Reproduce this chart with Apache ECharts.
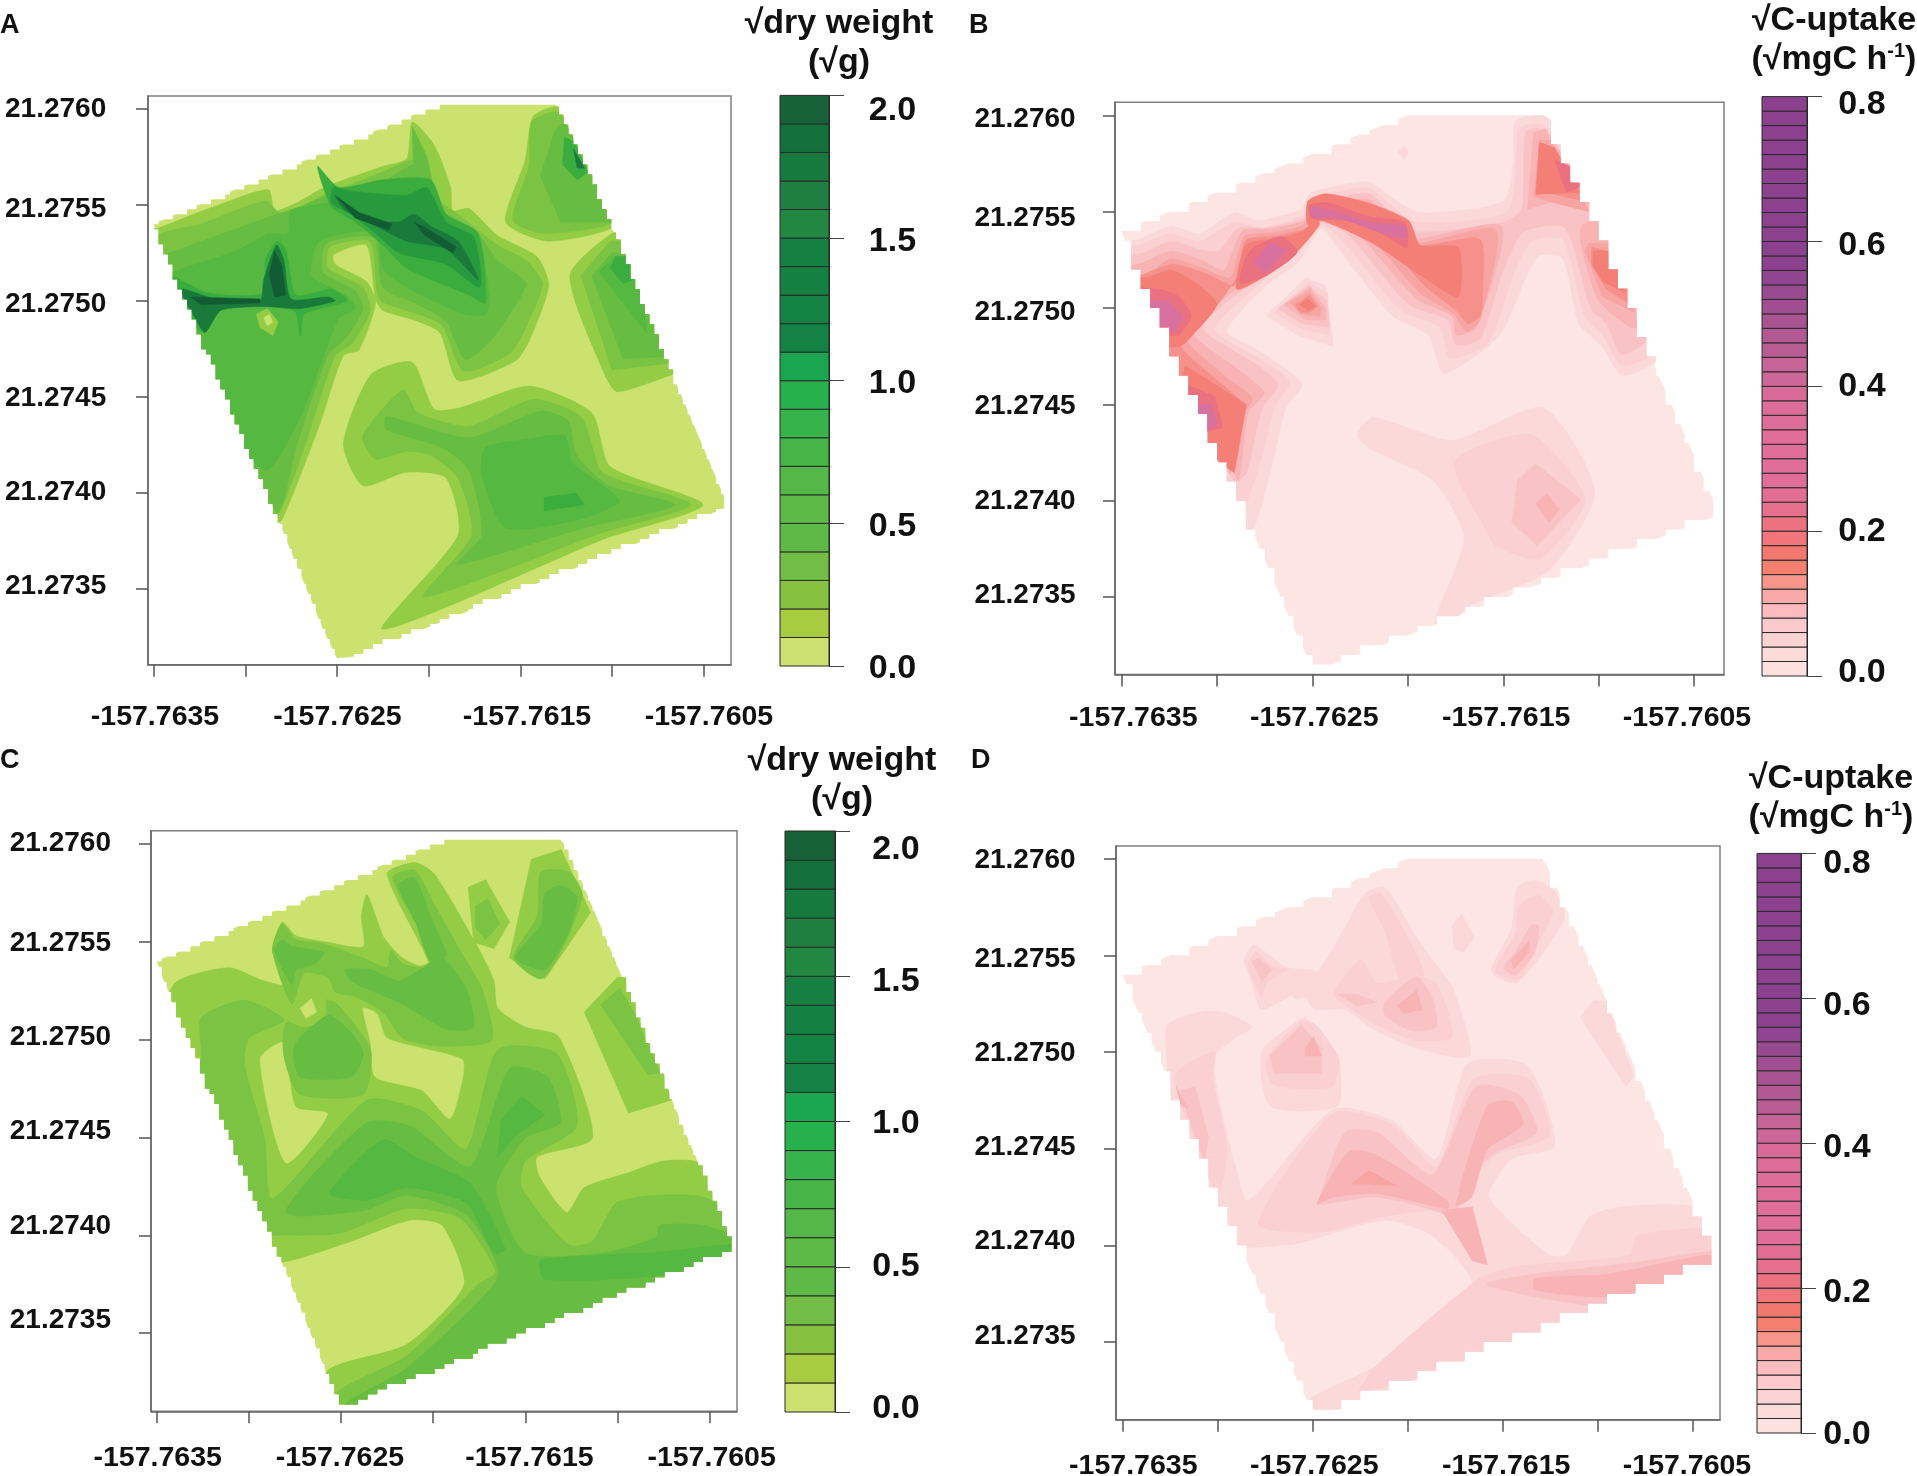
<!DOCTYPE html>
<html><head><meta charset="utf-8">
<style>html,body{margin:0;padding:0;background:#fff}#c{width:1917px;height:1476px;filter:blur(0.6px)}</style>
<script src="https://cdn.jsdelivr.net/npm/echarts@6/dist/echarts.min.js"></script></head>
<body><div id="c"></div>
<script>
// Map outlines and contour regions are in units of 1e-5 degree east of -157.7635 and north of 21.2735.
const originLon = -157.7635, originLat = 21.2735, unit = 1e-5;
const lonTicks = [-157.7635,-157.7630,-157.7625,-157.7620,-157.7615,-157.7610,-157.7605];
const latTicks = [21.2735,21.2740,21.2745,21.2750,21.2755,21.2760];
const lonLabels = ['-157.7635','-157.7625','-157.7615','-157.7605'];
const latLabels = ['21.2760','21.2755','21.2750','21.2745','21.2740','21.2735'];
const surveyOutline = [[0,190],[155,252],[219,252],[223,247],[248,192],[280,118],[311,48],[311,42],[110,-35],[100,-36],[92,-20],[68,36],[24,136],[3,182]];

const greenBar = ['#cde170','#a8cc3f','#86c240','#71bd45','#5fb946','#5eba47','#53b848','#46b649','#36b34a','#27b14c','#1aa64f','#138244','#138344','#148143','#158042','#228841','#1f7f40','#167a3e','#14703a','#176337'];
const pinkBar = ['#fde1df','#fbdcd9','#fbd3d5','#fcc9cc','#fbbbbf','#f9a9a8','#f8968b','#f6806f','#f2786f','#f1767b','#ec727f','#e66f8d','#e36e93','#e06e98','#e06e98','#e06e98','#e06e98','#de6d99','#dc6d99','#d96a97','#cc6797','#c66498','#b85c93','#b25892','#a85392','#a04d91','#984a91','#914590','#8b418e','#8b418e','#8b418e','#8b418e','#8b418e','#8b418e','#8b418e','#8b418e','#8b418e','#8b418e','#8b418e','#8b418e'];
const greenMapLevels = ['#cbe26f','#93cc45','#7ac343','#66bd42','#55b841','#3bad3f','#289a3e','#197a3c','#125c33'];
const pinkMapLevels = ['#fde5e3','#fbd9d9','#fad0d2','#f9c3c6','#f8b3b5','#f7a4a2','#f5908a','#f47f76','#ea7180','#d971a0'];

const regionsA = [
[1,[[-4,186],[3,188],[30,198],[62.5,208],[66,197],[78,201],[93,209],[125,220],[138,224],[141,243],[153,231],[162,209],[163,197],[172,198],[187.5,184],[209,173],[215.5,158],[205,129.5],[197,118.5],[166,108.5],[156,133.5],[142,140],[125,145],[121,151],[116,179],[98,174],[99,169],[116,160],[121,149],[112,124.5],[103.5,121.5],[90.5,85.5],[70,36],[65,34],[-13,145]]],
[1,[[207,246],[221,251],[230.6,235],[254,191],[215.5,181],[192,191],[202.6,223]]],
[1,[[250,185],[263,185],[295,112],[286.6,112.5],[253,102.6],[246,111.5],[227,163]]],
[1,[[141,118],[153,93.6],[168,94.6],[205,105.6],[239,91.6],[249,63.7],[299.6,43.8],[245.7,26],[125,-21],[166,28],[159.5,57.8],[138,60.8],[114,53.8],[103.5,75.7],[118.5,111.6]]],
[2,[[0,183],[26,190],[61,202],[70,195],[95,206],[125,217],[142,223],[157,201],[166,195],[187.5,179],[203,171],[212,159],[202.6,135.5],[194,122.5],[169,113.5],[157,137.5],[138,145],[123,151],[118,181],[96,178],[95,167],[114,157],[118,145],[108,127.5],[99,121.5],[82,73.7],[67,38],[56,46],[-13,145]]],
[2,[[206,243],[221,248],[235,221],[252,192],[213,185],[196,192],[205,221]]],
[2,[[249,181],[263,181],[285,118],[250,114],[233,163]]],
[2,[[136,103.6],[144,91.6],[172,84.7],[207,98.6],[233,89.6],[243.5,61.8],[256.5,55.8],[293,43.8],[243.5,29],[147.6,-4],[173.5,28],[166,57.8],[151,69.7],[138,71.7],[120.7,67.7],[114,79.7]]],
[3,[[0,171],[15,177],[67,195],[80,199],[95,205],[125,212],[144,221],[157,197],[175,187],[187.5,171],[203,159],[194,143],[184,129.5],[170,119.5],[159.5,139.5],[142,149],[125,157],[120,183],[94,180],[92,165],[110,155],[114,146],[105.6,131.5],[95,121.5],[77.6,73.7],[68,40],[52,66],[-13,145]]],
[3,[[219,239],[224,243],[255,191],[222,191],[211,215]]],
[3,[[250,175],[265,175],[282,121],[256,120],[239,163]]],
[3,[[127,89.6],[172,78.7],[211,92.6],[226,87.6],[230.6,69.7],[248,53.8],[284.5,43.8],[235,31.9],[166,13],[179,28],[172,61.8],[157,73.7],[127,83]]],
[3,[[141,241],[149,225],[153,207],[142,213]]],
[4,[[11,165],[30,171],[47.4,177],[62.5,185],[73,185],[75,197],[95,201],[125,211],[140,213],[155,197],[177,181],[183,153],[181,143],[170,143],[159.5,147],[138,157],[125,167],[121,186],[94,183],[88,178],[86,163],[106,152],[110,146],[101,141],[92.7,121.5],[80,89.6],[60,62],[-13,145]]],
[4,[[251,173],[265,173],[269,133],[243,165]]],
[4,[[202.6,77.7],[224,79.7],[228.4,65.7],[254,45.8],[230.6,35.9],[191.8,31.9],[179,59.8],[181,73.7]]],
[5,[[8.6,163],[30,154],[60,154],[61,171],[67,181],[72,177],[77.6,153],[97,156],[105.6,150],[82,143],[80,131.5],[76.5,145],[30,147],[26,133.5],[15,151]]],
[5,[[89.4,220],[101,209],[125,213],[151,213],[159.5,195],[177,185],[181,149],[172,153],[138,167],[125,179],[110,191],[97,199]]],
[5,[[224,235],[229,233],[237,217],[231,213],[223,221]]],
[5,[[252,173],[265,173],[262,161],[256,159],[249,167]]],
[5,[[213,47.8],[230.6,49.8],[235,43.8],[213,40.8]]],
[6,[[98,209],[108,207],[138,205],[149,209],[159.5,191],[174.6,183],[178,157],[159.5,169],[133.6,175],[121,185],[108,195],[97,201]]],
[7,[[15,156],[36.6,150],[58,150],[60,161],[67,179],[71,171],[75,151],[95,152],[99,150],[80,146],[60,147],[36.6,145],[28,133.5],[22.6,141]]],
[7,[[99,205],[116,193],[133.6,191],[142,195],[151,189],[166,181],[177,161],[159.5,177],[138,181],[121,189],[104.5,197]]],
[7,[[229,229],[235,219],[231,219]]],
[8,[[100,204],[112,196],[130,190],[128,187],[110,193]]],
[8,[[142,191],[150,187],[165,178],[163,175],[148,184]]],
[8,[[20,152],[58,151],[58,149],[26,148]]],
[8,[[66,176],[70,168],[72,153],[66,152],[63,164]]],
[1,[[56,143],[62,146],[68,139],[65,132],[58,136]]],
[0,[[60,141],[63,143],[65,139],[62,137]]]
];

const regionsC = [
[1,[[-3.9,125],[9,178],[39,186.7],[58,180],[70,178],[62.7,195.5],[68,210],[75.5,203],[90.6,200],[112,197.5],[111,213],[114,224],[122.7,203],[127,197.5],[133.5,191.6],[142,187.7],[147.4,189.6],[125,234.6],[140,240.4],[150.6,234.6],[174,197.5],[183,180],[185,166],[200,156.4],[218,151.6],[236.5,99.8],[206.4,90],[207.5,80.3],[222.5,61.7],[232,74.4],[255.8,82],[275,88],[294.4,87],[316,66.6],[320,41],[114,-43],[93,-43],[92.7,-19],[135.6,-5.7],[166.7,24.6],[155,55],[137.8,57.8],[105.6,47],[73.4,37.3],[60,37]]],
[1,[[169,227.7],[178.5,231.6],[191.5,210],[183,196.5],[172,199.5]]],
[1,[[203.3,242],[219.5,247],[235.4,214.8],[210.7,180.9],[191.4,191.6]]],
[1,[[250,181.8],[232,164],[256,112.5],[279.4,119],[260,181.8]]],
[0,[[56,140],[68,148.6],[71,137],[75.5,115.4],[92.7,112],[70,87]]],
[0,[[112,166],[119.5,163],[125,150.6],[165.7,139.8],[165.7,129],[159,109.6],[144,124],[118.5,131],[116,148.6]]],
[2,[[208.6,235.6],[223.6,235.6],[231,224],[221.5,199],[208.6,180.9],[193.6,191.6],[206.4,213]]],
[2,[[173,218],[179.5,222],[186,209],[178.5,201],[173,207]]],
[2,[[251.5,176],[240.8,168],[266.5,132],[273,133],[260,162]]],
[2,[[128,232.6],[140,236.5],[150.6,219],[165.7,193.6],[176.4,176],[181.8,149.6],[152.8,146.7],[133.5,150.6],[122.7,164],[107.7,172],[97,174],[92.7,181.8],[79.8,183.8],[73.4,168],[62.7,195.5],[68,209],[75.5,201],[88.4,199.4],[112,191.6],[125,186.7],[127,195.5],[133.5,188.7],[146.4,186.7],[150.6,191.6]]],
[2,[[24,161],[47.6,170],[69,160],[49.8,150.6],[47.6,137],[58.4,99.8],[62.7,68.6],[114,119],[144,113.5],[167.8,94],[185,144.7],[217,142.8],[227.9,105.7],[200,88],[197.9,74.4],[223.6,45],[236.5,47],[249.4,66.6],[273,70.5],[296.6,69.5],[318,57],[320,41],[114,-43],[100,-43],[98,-30],[135.6,-11.5],[174,24.6],[184,31.4],[164.6,58.8],[135.6,63.7],[99,51],[63.7,50],[50,50],[15,125],[24,140]]],
[2,[[70,158],[90.6,170],[98,168],[116,145],[112,122],[77.7,122],[69,141]]],
[1,[[74.5,164],[86,176],[91.6,170],[90.6,160],[79.8,156.4],[71,160]]],
[0,[[77.7,166],[84,171],[86.7,164],[81,160.7]]],
[3,[[102.3,185.7],[116,185.7],[131,179.9],[139.9,183.8],[154.9,191.6],[167.8,176],[172,156.4],[157,155.4],[133.5,168],[114,176],[105.6,180]]],
[3,[[131,228.7],[140,232.6],[148.5,212.6],[157,193],[148.5,189.6],[140,211]]],
[3,[[63.7,195.5],[68,201],[73.4,197.5],[90.6,194.5],[86,188.7],[75.5,185.7],[73.4,178]]],
[3,[[74.5,146.7],[92.7,162.3],[104.5,154.5],[112,142.8],[105.6,131],[77.7,131]]],
[3,[[210.7,224.6],[219.3,228.7],[227.9,222.8],[223.6,205],[210.7,185.7],[194.6,191.6],[208.6,209]]],
[3,[[70,61.7],[114,107.6],[137.8,105.7],[170,85],[191.4,135],[212,131],[219,107.6],[200,99.8],[184,74.4],[200,41],[243,41],[271,49],[273,55],[296.6,55],[320,47],[320,41],[114,-43],[101,-37],[133.5,-19.3],[166,8],[185,27.5],[184,37.3],[167.8,60.7],[135.6,70.5],[112,62.7]]],
[4,[[93.8,71.5],[122.7,98.8],[140,90],[170,76.4],[189,43],[183,41],[167.8,66.6],[135.6,74.4],[114,68]]],
[4,[[187,109],[197.9,121],[210.7,111.4],[195.7,101.7],[185,90]]],
[4,[[208.6,37.3],[271,41.2],[311.6,45],[307.3,39],[273,29.5],[210.7,27.5]]]
];

const regionsB = [
[1,[[-3,183.5],[9,185.5],[26,192.5],[40.5,188.5],[59,199.4],[71.6,195.4],[94.4,201.4],[98.5,209.3],[113,213.3],[129.7,215.3],[142,207],[156.6,199.4],[200,205.4],[205.4,227],[206.4,247],[223,249],[258,203.4],[283,126],[262.4,115],[252,130],[239.6,142],[231.3,175.6],[219,177.6],[212.7,167.7],[198,136],[169,116],[160.8,136],[142,145.8],[113,181.5],[104.8,191.5],[92.3,173.6],[75.7,161.7],[55,138],[71.6,128],[94.4,111],[86,98],[77.8,64.5],[68.5,34.7],[59,34.7],[-11,163.7]]],
[1,[[75.7,145.8],[96.5,165.7],[106.8,161.7],[111,130],[92.3,136]]],
[1,[[123.4,84.3],[131.7,93.3],[173.2,81.3],[221,98.2],[248,54.6],[224,14],[181.5,-5],[171,-15],[164,-13],[179.5,30.8],[163,60.5],[129.7,77.4]]],
[1,[[145,231],[148.3,234],[150.4,231],[148,227]]],
[2,[[-3,179.6],[9,182.5],[26,188.5],[40.5,184.5],[59,194.4],[73.6,191.5],[95.4,198.4],[101.7,206.3],[113,210.3],[129.7,212.3],[140,204.4],[154.6,194.4],[202.3,200.4],[208.5,243],[221,245],[258,199.4],[279,128],[262.4,120],[252,136],[242.7,145.8],[231.3,185.5],[214.7,184.5],[205.4,167.7],[192,132],[172,124],[167,140],[146.3,148.8],[116,184.5],[104.8,193],[90.2,177.6],[73.6,163.7],[48.8,139],[71.6,124],[88,112],[80,98],[71.6,66.5],[63.3,46.6],[50.8,64.5],[-11,163.7]]],
[2,[[80,147.8],[98,163.7],[107.9,157.7],[109,136],[94.4,138.9]]],
[2,[[174.3,70.4],[214.7,84.3],[242.7,50.6],[219,19.8],[196,26.8],[189.8,36.7]]],
[3,[[-3,175.6],[11.4,178.6],[26,184.5],[40.5,180.5],[50.8,179.6],[61.2,191.5],[75.7,191.5],[95.4,196.4],[102.7,203.4],[113,207.3],[129.7,209.3],[139,201.4],[152.5,189.5],[200,194.4],[209.6,201.4],[211.6,241],[218.9,243],[258,195.4],[275,134],[262,126],[254,141.9],[245.8,149.8],[232.4,191.5],[210.6,189.5],[200,169.6],[187.8,134],[175.3,131],[171,143.8],[150.4,151.8],[119.3,187.5],[104.4,194.4],[88.2,179.6],[71.6,165.7],[42.5,140],[71.6,120],[82,110],[73.6,98],[65.4,64.5],[59,60.5],[-11,163.7]]],
[3,[[82,149.8],[98,161.7],[107.4,153.8],[109,140],[94.4,141.9]]],
[3,[[207.5,60.5],[216.8,69.4],[240.6,50.6],[217.8,26.8],[204.4,38.7]]],
[4,[[-3,169.6],[11.4,173.6],[26,179.6],[42.5,174.6],[53.5,169.6],[63.3,190],[77.8,191],[95.4,195],[103.7,201.4],[117,205.4],[129.7,206.3],[138,199.4],[150.4,185.5],[199,192.5],[186,140],[175.3,136],[173.2,145.8],[154.6,154.8],[121.4,190.5],[104,195.4],[86,181.5],[69.5,167.7],[37.3,138],[61.2,118],[74.7,106],[66.4,96],[61.2,60.5],[55,74],[-11,163.7]]],
[4,[[212.7,201.4],[215.8,241],[222,243],[250,200],[225,205]]],
[4,[[241.7,193.5],[258,195],[270.7,140],[266.6,140],[250,153.8],[240.6,183.5]]],
[4,[[85,151.8],[98.5,160.7],[107,149.8],[107,143.8],[96.5,143.8]]],
[4,[[216.8,48.6],[223,53.6],[229.3,45.6],[224,38.7]]],
[5,[[-3,165.7],[13.5,167.7],[26,175.6],[42.5,170.6],[57,165.7],[64.3,187],[80,189],[95.4,193],[103.7,199.4],[117,203.4],[129.7,204.4],[138,197.4],[152.5,183.5],[196,190.5],[187.8,143.8],[180.5,137.9],[174.3,146.8],[156.6,157.7],[123.5,193.4],[103.7,195.8],[84,184.5],[67.4,169.6],[33.2,136],[55,114],[68.5,103],[61.2,92],[57,64.5],[50.8,84.3],[-11,163.7]]],
[5,[[216,208],[219,237],[225,237],[245,200],[225,205]]],
[5,[[245,183.5],[262.4,183.5],[268.6,147.8],[252,155.8],[242.7,179.6]]],
[5,[[88,152.8],[98.5,158.7],[104.8,149.8],[103.7,145.8],[94.4,146.8]]],
[6,[[-3,161.7],[26,172.6],[44.6,167.7],[59,161.7],[65,185],[82,187.5],[95.4,191],[103.7,197.4],[117,201.4],[129.7,202.4],[138,195.4],[154.6,182.5],[187.8,185.5],[189,155.8],[187.8,145.8],[181.5,141.9],[175.3,148.8],[158.7,161.7],[128,194.4],[103.7,195],[82,179.6],[65.4,171.6],[48.8,149.8],[30,132],[53,110],[63.3,100],[57,74.4],[-11,163.7]]],
[6,[[218,215],[222,232],[228,230],[245,205],[222,210]]],
[6,[[246.3,181.5],[262.4,177.6],[266.6,151.8],[254,159.7],[246,173.6]]],
[6,[[91,151.8],[98.5,156.7],[102.7,150.8],[98.5,147.8],[93.4,147.8]]],
[7,[[-11,167.7],[12.4,165.7],[26,169.6],[40.5,161.7],[49.8,151.8],[37.3,136],[30,130],[-11,130]]],
[7,[[33.2,120],[65.4,100],[59,64.5],[50.8,70.4],[30,104]]],
[7,[[60.2,159.7],[65.4,183],[82,186],[95.4,190],[101.7,197],[103.7,193.4],[92.3,179.6],[75.7,166.7]]],
[7,[[97.5,205.4],[106.8,209.3],[129.7,204.4],[150.4,195.4],[156.6,182.5],[176.4,181.5],[176.4,155.8],[158.7,165.7],[131.7,183.5],[104.8,195.4],[97.5,193.4]]],
[7,[[217,209],[218.9,236],[227,233],[240,210]]],
[7,[[247,179.6],[258,179.6],[264,158],[252,163.7],[247,171.6]]],
[7,[[93.4,151.8],[97.5,154.8],[101.7,150.8],[97.5,148.8]]],
[8,[[98.5,203.4],[109,204.4],[129.7,197.4],[148.3,194.4],[149.4,181.5],[134.8,189.5],[117.2,195.4],[99.6,196.4]]],
[8,[[65,176],[70,182],[84,187],[92,179],[76,167],[62,163]]],
[8,[[-11,159.7],[19.7,159.7],[30,155.8],[36.3,145.8],[30,136],[24,136],[-11,140]]],
[8,[[30,112],[48.8,104],[53,88],[44.6,86],[30,100]]],
[8,[[227,227],[250,217],[233,210]]],
[9,[[99.6,202.4],[110.7,200.4],[129.7,194.4],[148.3,192.5],[148.8,186.5],[134.8,189.5],[115.1,196.4],[99.6,197.4]]],
[9,[[69,174],[78,184],[87,180],[75,168]]],
[9,[[-11,153.8],[24,153.8],[32,145.8],[28,138],[-11,138]]],
[9,[[30,100],[46.6,100],[50,90],[44.6,86]]]
];

const regionsD = [
[1,[[23.3,164],[42,171],[54.6,170],[68,163],[58.8,157],[48,148],[50.4,126],[58.8,92.7],[66,73],[110.8,120.4],[142,114.5],[165,94.7],[181.7,144],[213,143],[227.5,101.6],[204.6,94.7],[193,75],[224.4,45],[233.8,45],[246,65],[263,70],[300.4,70],[313,55],[313,39],[113,-44],[98,-44],[98,-30],[133.8,-12],[183.8,30],[163,55],[138,63],[92,51],[68,49],[58.8,50],[15,130],[23,140]]],
[1,[[127.5,232],[138,235],[154.6,209.5],[169,189.7],[174.4,181.8],[182.7,148],[154.6,152],[131.7,162],[117,172],[101.5,172],[96,178],[90,178],[86,193],[102.5,191.7]]],
[1,[[73,150],[92,166],[96,168],[113,148],[113,122],[77.5,122]]],
[1,[[64,197.6],[69,205.5],[86,193.7],[102.5,191.7],[101.5,183.8],[90,180],[73,172],[68,186]]],
[1,[[173.3,215.4],[178.5,221.4],[185,209.5],[179.6,201.6],[174.4,203.6]]],
[1,[[207.7,235],[217,239],[227.5,233],[232.7,219.4],[217,195.6],[206.7,185.7],[194,191.7],[204.6,213.5]]],
[1,[[248,176.8],[241,168],[265,132],[269,138],[254.6,175.8]]],
[2,[[209,226],[219,231],[226.5,223],[217,203.6],[208.8,187.7],[196,191.7],[206.7,211.5]]],
[2,[[129.6,230],[135.8,232],[148.3,212.5],[158.7,189.7],[148.3,181.8],[138,212.5]]],
[2,[[111,179.8],[125.2,197.6],[133.8,185.7],[150.4,188.7],[165,185.7],[173.3,158],[154.6,156],[133.8,164],[121,172]]],
[2,[[66,195.6],[70.2,201.6],[79.6,193.7],[86,192.7],[75.4,185.7],[73.3,177.8]]],
[2,[[75.4,146],[94,166],[101.5,164],[114,146],[109.8,132],[79.6,133]]],
[2,[[27.5,138],[48.3,150],[47.3,136],[54.6,100.6],[50.4,76.8],[40,96.6]]],
[2,[[71.3,61],[110.8,118.4],[142,112.5],[165,90.7],[184.8,136],[214,136],[224.4,106.5],[196,96.6],[179.6,74.9],[190,41],[169.2,67],[138,65],[104.6,57]]],
[2,[[187.9,33],[206.7,39],[267,45],[271,55],[313,58],[313,39],[196,-6.3],[125,-26],[133.8,-12]]],
[3,[[206.7,201.6],[215,215.4],[219,215.4],[217,201.6],[206.7,189.7],[200.4,193.7]]],
[3,[[138,175.8],[154.6,188.7],[163,177.8],[165,163],[152.5,161],[138,169]]],
[3,[[113,180],[123.3,180],[133.8,175.8],[123.3,173.8]]],
[3,[[68,196.6],[71.2,198.6],[78.6,192.7],[73.3,186.7]]],
[3,[[77.5,148],[94,164],[104.6,152],[104.6,139],[79.6,139]]],
[3,[[29.6,130],[38,132],[45,106.5],[43,92.7]]],
[3,[[102.5,72],[117,108.5],[133.8,108.5],[163,86.7],[186,132],[208.8,128],[218,108.5],[194,96.6],[175.4,74.9],[190,41],[171,65],[133.8,74.9],[102.5,70.9]]],
[3,[[191,30],[215,35],[269,41],[313,47],[313,39],[254.6,19],[217,23.4]]],
[4,[[204.6,197.6],[214,207.5],[214,201.6],[205.6,192.7]]],
[4,[[144.2,173.9],[154.6,181.8],[157.7,171.9],[148.3,170]]],
[4,[[96,152],[100.4,158],[104.6,148],[96,148]]],
[4,[[28,132],[33.8,121],[30.6,122.4]]],
[4,[[175.4,70.9],[192,122.4],[204.6,124.4],[210.8,112.5],[192,99.6],[183.8,75]]],
[4,[[102.5,72],[119,98.6],[133.8,96.6],[171,72.9],[171,69],[133.8,76.8],[110.8,74.9]]],
[4,[[168,68],[184,70],[192,40],[184,42]]],
[4,[[217,33],[254.6,35],[308.7,45],[313,40],[258.7,23.4],[217,27]]],
[5,[[120.2,81.8],[129.6,88.7],[144.2,80.8],[129.6,81.8]]]
];

const SANS = '"Liberation Sans", Arial, sans-serif';
const mapPanels = [
 {regions:regionsA,colors:greenMapLevels,cell:2.6,frame:[148,731,96,664.8],x0:153.7,xs:91.67,y0:108.7,ys:96.05,latX:5,latY:[109,209,304,398,492,586],lonX:[155,337.4,527,709],lonY:717},
 {regions:regionsB,colors:pinkMapLevels,cell:5,frame:[1115,1724,102.2,674.4],x0:1121.7,xs:95.4,y0:115.3,ys:96.36,latX:974.4,latY:[119,218,312.5,406.7,500.8,595],lonX:[1133.3,1314.3,1506.2,1687],lonY:718.5},
 {regions:regionsC,colors:greenMapLevels,cell:2.6,frame:[151,737,830.7,1411.3],x0:156.9,xs:92.1,y0:843.7,ys:97.9,latX:9.8,latY:[843,943.4,1037.5,1131.7,1225.8,1320],lonX:[157.7,339.9,529.4,711.6],lonY:1458},
 {regions:regionsD,colors:pinkMapLevels,cell:5,frame:[1116,1720,846,1419.7],x0:1123,xs:94.9,y0:858.7,ys:96.67,latX:974.4,latY:[860.3,959.3,1053.4,1147.6,1241.7,1335.8],lonX:[1133.3,1314.3,1506.2,1687],lonY:1466.6}
];
const barPanels = [
 {colors:greenBar,max:2,step:.5,frame:[780,829,95.4,666],labels:['2.0','1.5','1.0','0.5','0.0'],labelX:892.5,labelY:[110.5,241.5,383.5,526.5,668.5]},
 {colors:pinkBar,max:.8,step:.2,frame:[1762,1807,96.6,676],labels:['0.8','0.6','0.4','0.2','0.0'],labelX:1862,labelY:[105,246,387,532,673]},
 {colors:greenBar,max:2,step:.5,frame:[785,835,831,1412],labels:['2.0','1.5','1.0','0.5','0.0'],labelX:896,labelY:[850,982,1123.5,1266.5,1408.5]},
 {colors:pinkBar,max:.8,step:.2,frame:[1757,1801,853.4,1433],labels:['0.8','0.6','0.4','0.2','0.0'],labelX:1847,labelY:[863.5,1005.5,1147.5,1293,1435]}
];
const letters = [['A',0,26],['B',969,26],['C',0,761],['D',971,761]];

function staircase(outline,cell){
  const out=[];let last=null;
  const snap=v=>Math.round(v/cell)*cell;
  outline.forEach((p,i)=>{
    const q=outline[(i+1)%outline.length];
    for(let t=0;t<40;t++){
      const a=snap(p[0]+(q[0]-p[0])*t/40),b=snap(p[1]+(q[1]-p[1])*t/40);
      if(!last||last[0]!==a||last[1]!==b){
        if(last&&last[0]!==a&&last[1]!==b)out.push([a,last[1]]);
        out.push([a,b]);last=[a,b];
      }
    }
  });
  return out;
}
const toGeo=p=>[originLon+p[0]*unit,originLat+p[1]*unit];

const grids=[],xAxes=[],yAxes=[],series=[],graphics=[];
const txt=(text,x,y,size,align)=>graphics.push({type:'text',x,y,z:100,style:{text,fill:'#111',font:`bold ${size}px ${SANS}`,align:align||'center',verticalAlign:'middle'}});

mapPanels.forEach((m,i)=>{
  const [l,r,t,b]=m.frame;
  grids.push({left:l,top:t,width:r-l,height:b-t,show:true,borderColor:'#808080',borderWidth:1.5,backgroundColor:'#fff'});
  const lonAt=px=>lonTicks[0]+(px-m.x0)/m.xs*0.0005;
  const latAt=py=>latTicks[5]-(py-m.y0)/m.ys*0.0005;
  xAxes.push({type:'value',gridIndex:grids.length-1,min:lonAt(l),max:lonAt(r),splitLine:{show:false},axisLabel:{show:false},
    axisLine:{show:true,onZero:false,lineStyle:{color:'#666',width:1.5}},axisTick:{show:true,length:12,customValues:lonTicks,lineStyle:{color:'#555',width:1.5}}});
  yAxes.push({type:'value',gridIndex:grids.length-1,min:latAt(b),max:latAt(t),splitLine:{show:false},axisLabel:{show:false},
    axisLine:{show:true,onZero:false,lineStyle:{color:'#666',width:1.5}},axisTick:{show:true,length:12,customValues:latTicks,lineStyle:{color:'#555',width:1.5}}});
  const clip=staircase(surveyOutline,m.cell).map(toGeo);
  const all=[[0,surveyOutline.map(p=>[p[0],p[1]])]].concat(m.regions);
  series.push({type:'custom',xAxisIndex:xAxes.length-1,yAxisIndex:yAxes.length-1,coordinateSystem:'cartesian2d',clip:false,silent:true,
    data:all.map((_,k)=>[k]),
    renderItem:(params,api)=>{
      const k=api.value(0),reg=all[k];
      const pts=reg[1].map(p=>api.coord(toGeo(p)));
      return {type:'polygon',shape:{points:pts,smooth:k===0||reg[1].length<6?0:0.22},style:{fill:m.colors[reg[0]],stroke:m.colors[reg[0]],lineWidth:.5},
        clipPath:{type:'polygon',shape:{points:clip.map(p=>api.coord(p))}}};
    }});
  latLabels.forEach((s,k)=>txt(s,m.latX,m.latY[k],28,'left'));
  lonLabels.forEach((s,k)=>txt(s,m.lonX[k],m.lonY,28.5));
});
barPanels.forEach(c=>{
  const [l,r,t,b]=c.frame;
  grids.push({left:l,top:t,width:r-l,height:b-t});
  const n=c.colors.length;
  xAxes.push({type:'value',gridIndex:grids.length-1,min:0,max:1,show:false});
  yAxes.push({type:'value',gridIndex:grids.length-1,min:0,max:c.max,interval:c.step,position:'right',splitLine:{show:false},axisLabel:{show:false},
    axisLine:{show:true,onZero:false,lineStyle:{color:'#222',width:1}},axisTick:{show:true,length:15,inside:false,lineStyle:{color:'#444',width:1}}});
  series.push({type:'custom',xAxisIndex:xAxes.length-1,yAxisIndex:yAxes.length-1,silent:true,clip:false,
    data:c.colors.map((_,k)=>[k]),
    renderItem:(params,api)=>{
      const k=api.value(0);
      const p0=api.coord([0,c.max*(k+1)/n]),p1=api.coord([1,c.max*k/n]);
      return {type:'rect',shape:{x:p0[0],y:p0[1],width:p1[0]-p0[0],height:p1[1]-p0[1]},
        style:{fill:c.colors[k],stroke:'#2a2a2a',lineWidth:1}};
    }});
  c.labels.forEach((s,k)=>txt(s,c.labelX,c.labelY[k],34));
});
letters.forEach(a=>txt(a[0],a[1],a[2],27,'left'));
[[839,24],[842,761]].forEach(p=>{txt('√dry weight',p[0],p[1],34);txt('(√g)',p[0],p[1]+39,34);});
[[1834,21],[1831,779]].forEach(p=>{
  txt('√C-uptake',p[0],p[1],34);
  graphics.push({type:'text',x:p[0],y:p[1]+39,z:100,style:{text:'{a|(√mgC h}{s|-1}{a|)}',align:'center',verticalAlign:'middle',
    rich:{a:{font:`bold 34px ${SANS}`,fill:'#111',lineHeight:38},s:{font:`bold 20px ${SANS}`,fill:'#111',verticalAlign:'top',lineHeight:38,padding:[0,0,12,0]}}}});
});
const chart=echarts.init(document.getElementById('c'),null,{renderer:'canvas',width:1917,height:1476});
chart.setOption({animation:false,backgroundColor:'#fff',grid:grids,xAxis:xAxes,yAxis:yAxes,series,graphic:{elements:graphics}});
</script></body></html>
